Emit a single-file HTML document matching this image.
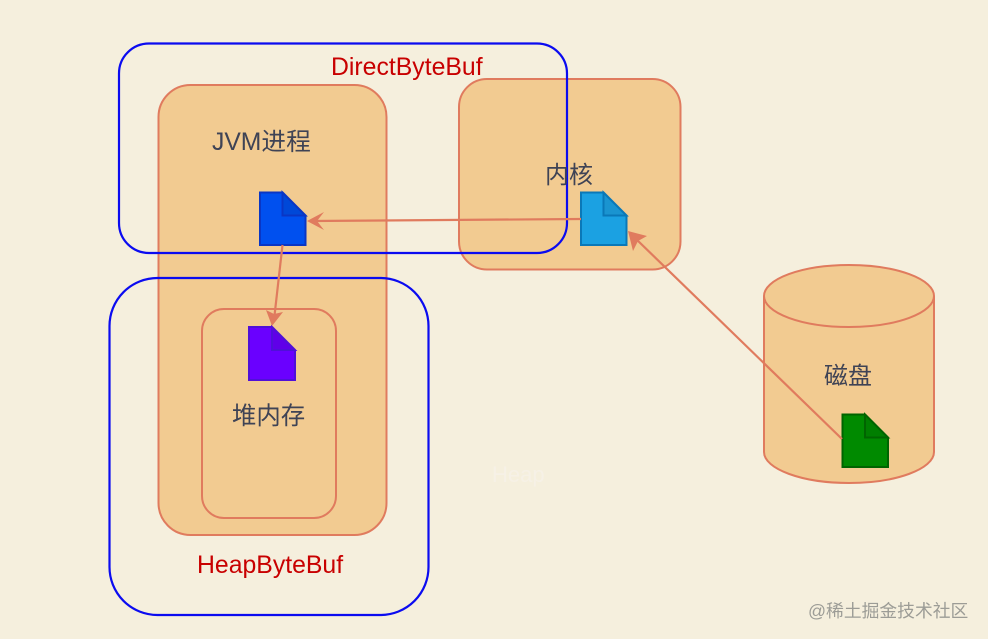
<!DOCTYPE html>
<html>
<head>
<meta charset="utf-8">
<style>
html,body{margin:0;padding:0;background:#f5efdd;}
svg{display:block;}
text{font-family:"Liberation Sans","Noto Sans CJK SC",sans-serif;}
</style>
</head>
<body>
<svg width="988" height="639" viewBox="0 0 988 639" xmlns="http://www.w3.org/2000/svg">
<rect width="988" height="639" fill="#f5efdd"/>
<g fill="#f2cb91" stroke="#e07b5e" stroke-width="2">
<rect x="158.5" y="85" width="228" height="450" rx="32"/>
<rect x="202" y="309" width="134" height="209" rx="22"/>
<rect x="459" y="79" width="221.500" height="190.500" rx="28"/>
<path d="M764 296V452C764 469 802 483 849 483S934 469 934 452V296" />
<ellipse cx="849" cy="296" rx="85" ry="31"/>
</g>
<g fill="none" stroke="#0b0bf0" stroke-width="2.200">
<rect x="119" y="43.500" width="448" height="209.500" rx="30"/>
<rect x="109.500" y="278" width="319" height="337" rx="48"/>
</g>
<g stroke-width="2">
<path d="M260 192.500H282.500L305.500 215.500V245H260Z" fill="#0050ef" stroke="#0a36c4"/>
<path d="M282.500 192.500L305.500 215.500H282.500Z" fill="#0048d8" stroke="#0a36c4"/>
<path d="M581 192.500H603.500L626.500 215.500V245H581Z" fill="#1ba1e2" stroke="#0a78b8"/>
<path d="M603.500 192.500L626.500 215.500H603.500Z" fill="#1a94d0" stroke="#0a78b8"/>
<path d="M249 327H272L295 350V380H249Z" fill="#6a00ff" stroke="#4f10d8"/>
<path d="M272 327L295 350H272Z" fill="#6000e8" stroke="#4f10d8"/>
<path d="M842.500 414.500H865L888 437.500V467H842.500Z" fill="#008a00" stroke="#006400"/>
<path d="M865 414.500L888 437.500H865Z" fill="#007e00" stroke="#006400"/>
</g>
<g stroke="#e07b5e" stroke-width="2.200" fill="none">
<line x1="581" y1="219" x2="312" y2="221"/>
<line x1="282.500" y1="245" x2="274" y2="320"/>
<line x1="842" y1="439" x2="634" y2="237"/>
</g>
<g fill="#e07b5e">
<path d="M307 221L324 212L317 221L324 230Z"/>
<path d="M272 326L266 310L274 314L283 312Z"/>
<path d="M628 231L647 236L638 241L633 251Z"/>
</g>
<g fill="#3f4355">
<text x="212" y="150" font-size="24.700">JVM进程</text>
<text x="545" y="183" font-size="24">内核</text>
<text x="232" y="424" font-size="24.400">堆内存</text>
<text x="824" y="384" font-size="24">磁盘</text>
</g>
<g fill="#c80000" font-size="24.800">
<text x="331" y="75">DirectByteBuf</text>
<text x="197" y="573">HeapByteBuf</text>
</g>
<text x="492" y="482" font-size="22" fill="#f6f1e6">Heap</text>
<text x="808" y="617" font-size="17.800" fill="#9c9c96">@稀土掘金技术社区</text>
</svg>
</body>
</html>
